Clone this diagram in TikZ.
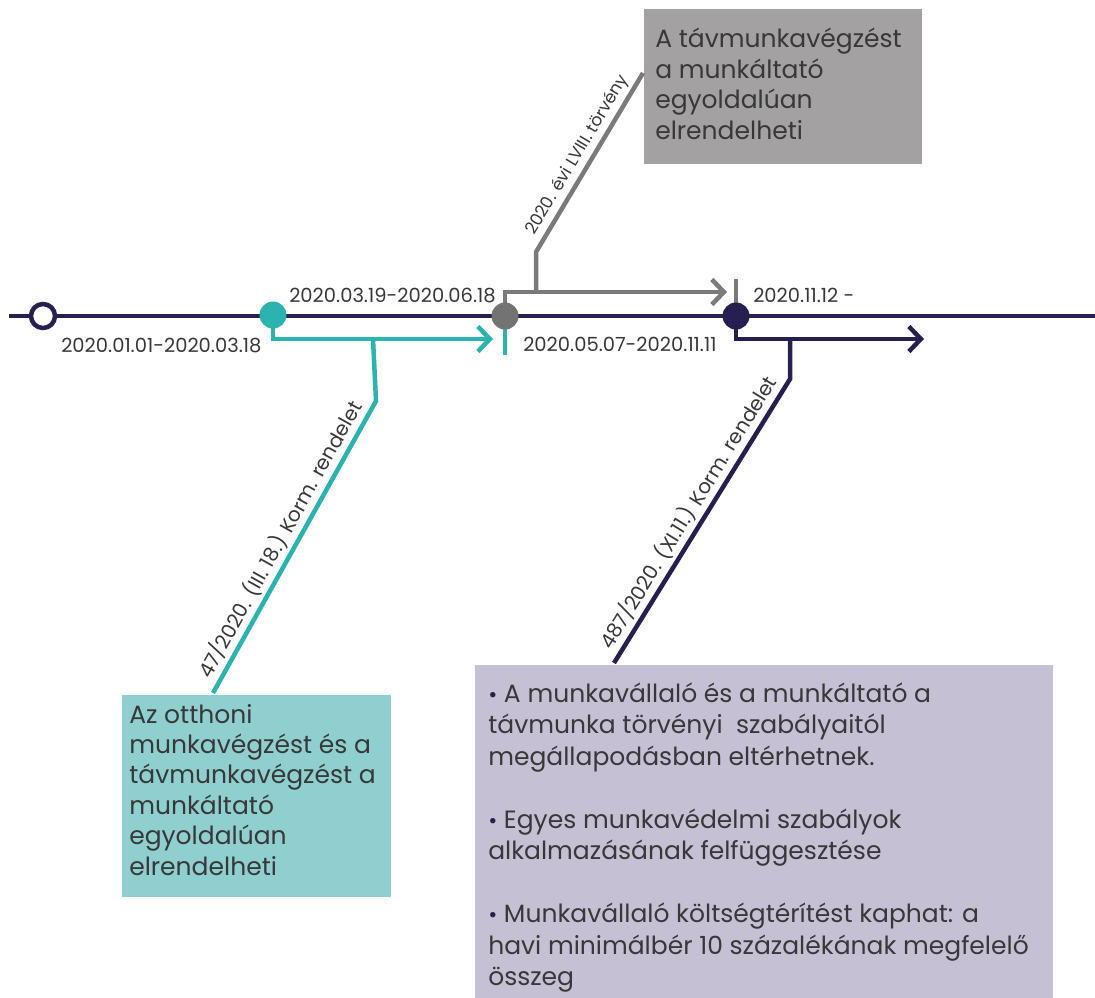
\documentclass[tikz,border=0pt]{standalone}
\usepackage{fontspec}
\setmainfont{Poppins}
\usetikzlibrary{arrows.meta}
\definecolor{navy}{HTML}{25204F}
\definecolor{tealc}{HTML}{2BB3AF}
\definecolor{greyc}{HTML}{7A7A7A}
\definecolor{greydot}{HTML}{737373}
\definecolor{greybox}{HTML}{A3A1A1}
\definecolor{tealbox}{HTML}{8FCFCF}
\definecolor{purplebox}{HTML}{C5C0D3}
\definecolor{txt}{HTML}{383838}
\newcommand{\bul}{{\color{navy}\fontsize{22}{22}\selectfont•}}
\begin{document}
\begin{tikzpicture}[x=1pt,y=-1pt,line width=4.5pt,
  chev/.style={-{Straight Barb[length=12pt,width=25pt]}},
  datelbl/.style={font=\fontsize{19.5}{22}\selectfont,text=txt,inner sep=0pt},
  rotlbl/.style={font=\fontsize{20}{22}\selectfont,text=txt,inner sep=0pt,sloped,above=3pt,midway},
  boxtxt/.style={font=\fontsize{25}{30.4}\selectfont,text=txt,inner sep=0pt,anchor=base west},
  dotnode/.style={circle,inner sep=0pt,minimum size=27pt,draw=none},
  boxnode/.style={rectangle,inner sep=0pt,anchor=north west,draw=none}]
\useasboundingbox (0,0) rectangle (1095,998);

% boxes
\node[boxnode,fill=greybox,minimum width=278pt,minimum height=155pt] (gbox) at (642,7) {};
\node[boxnode,fill=tealbox,minimum width=269pt,minimum height=202pt] (tbox) at (120,693) {};
\node[boxnode,fill=purplebox,minimum width=578pt,minimum height=345pt] (pbox) at (473,663) {};

% box texts
\node[boxtxt] (gtext) at (653,48) {\parbox[t]{265pt}{\raggedright\leavevmode
A távmunkavégzést\\a munkáltató\\egyoldalúan\\elrendelheti}};
\node[boxtxt] (ttext) at (127,723) {\parbox[t]{262pt}{\raggedright\leavevmode
Az otthoni\\munkavégzést és a\\távmunkavégzést a\\munkáltató\\egyoldalúan\\elrendelheti}};
\node[boxtxt,font=\fontsize{25}{31.5}\selectfont] (ptext) at (486,702) {\parbox[t]{575pt}{\raggedright\leavevmode
\bul\ A munkavállaló és a munkáltató a\\
távmunka törvényi\ \ szabályaitól\\
megállapodásban eltérhetnek.\\[31.5pt]
\bul\ Egyes munkavédelmi szabályok\\
alkalmazásának felfüggesztése\\[31.5pt]
\bul\ Munkavállaló költségtérítést kaphat: a\\
havi minimálbér 10 százalékának megfelelő\\
összeg}};

% coordinates
\coordinate (L0) at (9,316);
\coordinate (L1) at (1095,316);
\coordinate (tArr) at (493,339);
\coordinate (tJ) at (373,339);
\coordinate (tK) at (376,401);
\coordinate (tL) at (213,693);
\coordinate (tT1) at (505,327);
\coordinate (tT2) at (505,355);
\coordinate (gArr) at (727,292);
\coordinate (gJ) at (536,292);
\coordinate (gK) at (536,252);
\coordinate (gL) at (643,73);
\coordinate (gT1) at (736,279);
\coordinate (dArr) at (924,339);
\coordinate (dJ) at (790,339);
\coordinate (dK) at (790,379);
\coordinate (dL) at (614,663);

% dot positions
\coordinate (pO) at (43,316);
\coordinate (pT) at (273,315);
\coordinate (pG) at (505,316);
\coordinate (pD) at (736,316);

% main line
\draw[navy] (L0) -- (L1);

% teal branch
\draw[tealc,chev] (pT) |- (tArr);
\draw[tealc] (tT1) -- (tT2);
\draw[tealc] (tJ) -- (tK) -- (tL);
\path (tL) -- (tK) node[rotlbl] (tlab) {47/2020. (III. 18.) Korm. rendelet};

% grey branch
\draw[greyc,chev] (pG) |- (gArr);
\draw[greyc] (gT1) -- (pD);
\draw[greyc] (gJ) -- (gK) -- (gL);
\path (gK) -- (gL) node[rotlbl,font=\fontsize{17}{19}\selectfont] (glab) {2020. évi LVIII. törvény};

% dark branch
\draw[navy,chev] (pD) |- (dArr);
\draw[navy] (dJ) -- (dK) -- (dL);
\path (dL) -- (dK) node[rotlbl] (dlab) {487/2020. (XI.11.) Korm. rendelet};

% dots
\node[dotnode,fill=white,draw=navy,line width=4.5pt,minimum size=24pt] (dO) at (pO) {};
\node[dotnode,fill=tealc] (dT) at (pT) {};
\node[dotnode,fill=greydot] (dG) at (pG) {};
\node[dotnode,fill=navy] (dD) at (pD) {};

% date labels
\node[datelbl,anchor=base west] (l1) at (59,352) {2020.01.01-2020.03.18};
\node[datelbl,anchor=base west] (l2) at (287,302) {2020.03.19-2020.06.18};
\node[datelbl,anchor=base west] (l3) at (521,351) {2020.05.07-2020.11.11};
\node[datelbl,anchor=base west] (l4) at (751,302) {2020.11.12 -};
\end{tikzpicture}
\end{document}
